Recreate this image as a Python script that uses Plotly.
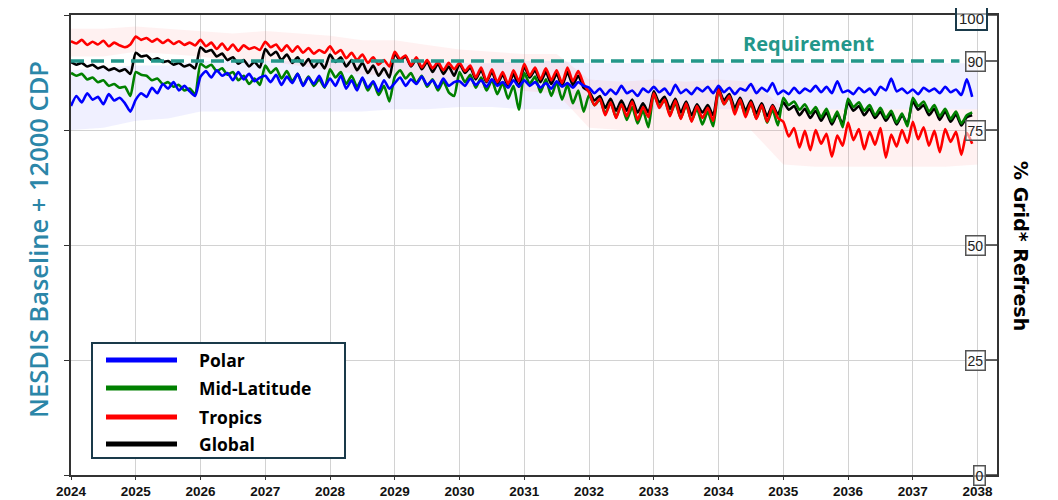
import plotly.graph_objects as go

# ---------------- data ----------------
years = list(range(2024, 2038))
tick_years = list(range(2024, 2039))
right_ticks = [0, 25, 50, 75, 90, 100]
requirement = 90

polar = [
    80.2, 82.4, 81.0, 83.0, 81.6, 82.2, 80.6, 82.8, 81.4, 82.0, 80.8, 79.0,
    81.6, 83.0, 82.2, 84.2, 83.0, 85.0, 84.0, 85.4, 83.6, 84.6, 83.4, 82.4,
    86.6, 87.8, 86.4, 88.0, 86.8, 87.4, 85.8, 87.6, 86.0, 87.2, 85.6, 86.4,
    86.8, 85.4, 87.0, 84.8, 86.6, 85.2, 87.2, 84.6, 86.4, 85.0, 86.8, 84.4,
    86.2, 84.6, 86.8, 84.0, 85.8, 83.6, 86.4, 84.2, 85.6, 83.4, 85.8, 84.0,
    85.2, 86.4, 84.6, 86.0, 85.0, 86.6, 84.8, 85.8, 84.2, 86.2, 84.6, 85.4,
    85.6, 84.6, 86.2, 84.8, 85.8, 84.4, 86.0, 84.6, 85.4, 84.2, 85.8, 84.4,
    85.8, 84.6, 85.4, 84.2, 85.2, 84.0, 85.6, 84.4, 85.2, 84.2, 85.4, 84.6,
    84.2, 83.0, 84.0, 82.6, 83.8, 82.8, 84.6, 83.0, 83.6, 82.4, 84.0, 83.2,
    84.4, 83.2, 84.0, 82.6, 84.8, 83.0, 83.8, 82.8, 84.2, 83.4, 84.4, 83.0,
    84.6, 83.2, 84.2, 82.8, 84.0, 83.6, 85.0, 83.0, 84.2, 83.4, 85.2, 82.8,
    83.6, 82.8, 84.2, 83.0, 84.0, 83.4, 84.6, 83.2, 84.4, 83.0, 85.6, 83.2,
    83.6, 82.8, 84.2, 83.2, 84.0, 82.6, 84.4, 83.6, 86.2, 83.4, 84.0, 83.0,
    83.8, 82.8, 84.2, 83.4, 84.0, 83.0, 84.4, 83.2, 83.8, 82.6, 86.0, 82.2,
]

mid_latitude = [
    87.4, 86.8, 87.2, 86.0, 86.4, 85.4, 85.8, 84.6, 85.0, 84.2, 84.4, 82.4,
    87.6, 87.0, 86.8, 85.8, 86.2, 85.0, 85.4, 84.4, 84.8, 83.6, 84.0, 82.8,
    89.4, 88.6, 89.2, 87.8, 88.4, 87.0, 87.6, 85.8, 86.8, 85.0, 86.2, 84.8,
    89.0, 87.4, 88.4, 86.2, 87.8, 85.6, 87.2, 84.8, 86.6, 84.6, 86.0, 84.2,
    88.2, 86.4, 87.6, 85.0, 86.8, 84.4, 86.2, 83.6, 85.4, 82.6, 84.6, 81.2,
    86.6, 88.0, 86.2, 87.4, 85.2, 86.8, 84.4, 86.0, 83.6, 85.6, 83.2, 82.4,
    87.6, 85.4, 87.0, 84.2, 86.4, 83.6, 85.8, 82.8, 85.2, 81.8, 84.6, 79.4,
    87.4, 85.0, 86.6, 83.2, 86.0, 82.4, 85.4, 81.6, 84.8, 80.8, 83.6, 79.0,
    82.6, 80.4, 81.6, 78.6, 81.0, 77.8, 80.6, 77.2, 80.0, 76.4, 79.2, 75.6,
    82.8, 80.2, 81.4, 78.4, 80.8, 77.6, 80.4, 77.0, 79.6, 76.2, 79.0, 75.8,
    83.6, 80.6, 82.2, 79.0, 81.2, 78.4, 80.6, 77.6, 80.2, 76.6, 79.4, 76.0,
    82.0, 80.4, 81.2, 79.4, 80.6, 78.6, 80.0, 77.8, 79.6, 76.8, 79.0, 75.6,
    81.8, 80.0, 81.0, 79.2, 80.4, 78.2, 79.8, 77.6, 79.2, 76.6, 78.6, 75.8,
    82.0, 80.2, 81.2, 79.0, 80.4, 78.0, 79.6, 77.4, 79.0, 76.4, 78.2, 78.8,
]

tropics = [
    94.3, 93.8, 94.6, 93.5, 94.2, 93.6, 94.4, 93.2, 94.0, 93.4, 93.0, 93.6,
    95.3, 94.6, 95.0, 94.2, 94.8, 93.9, 94.6, 93.7, 94.3, 93.5, 94.0, 93.4,
    94.6, 93.2, 94.0, 92.6, 93.8, 92.4, 93.6, 92.2, 93.4, 92.6, 93.0, 92.4,
    94.2, 93.0, 93.6, 92.2, 93.4, 92.0, 93.2, 91.8, 92.8, 91.6, 92.4, 91.8,
    93.2, 91.6, 92.4, 90.6, 91.8, 90.2, 91.4, 89.6, 90.8, 89.2, 90.2, 88.8,
    92.0, 90.4, 91.2, 89.0, 90.8, 88.6, 90.2, 88.4, 89.8, 88.0, 89.6, 88.2,
    89.6, 87.8, 89.0, 86.4, 88.6, 85.6, 88.2, 85.4, 87.6, 85.0, 88.0, 85.6,
    89.4, 86.8, 88.6, 86.0, 88.4, 85.8, 88.0, 85.2, 88.6, 85.6, 87.8, 85.0,
    83.2, 80.4, 81.8, 78.2, 81.0, 77.6, 80.6, 78.0, 81.2, 77.2, 80.0, 77.8,
    83.0, 79.8, 81.6, 78.0, 81.4, 77.4, 80.8, 76.8, 80.2, 77.6, 79.8, 77.0,
    83.8, 80.6, 82.4, 78.4, 81.6, 77.8, 81.0, 77.4, 80.4, 76.8, 80.2, 77.6,
    76.8, 73.6, 75.4, 71.2, 74.8, 70.6, 75.0, 72.0, 74.2, 69.2, 73.8, 71.6,
    76.6, 72.8, 75.2, 70.8, 74.6, 71.8, 75.4, 69.0, 74.0, 71.4, 75.0, 72.2,
    76.8, 73.0, 75.6, 71.6, 74.8, 70.2, 75.2, 72.4, 74.6, 69.6, 74.4, 72.0,
]

global_ = [
    89.8, 89.2, 89.6, 88.8, 89.2, 88.4, 88.8, 88.0, 88.4, 87.8, 88.2, 87.2,
    91.8, 91.0, 91.2, 90.2, 90.6, 89.8, 90.0, 89.2, 89.6, 88.8, 89.2, 88.4,
    93.0, 92.0, 92.4, 91.0, 91.6, 90.2, 90.8, 89.4, 90.2, 88.8, 89.8, 88.6,
    92.6, 91.2, 92.0, 90.2, 91.4, 89.6, 90.8, 89.0, 90.4, 88.6, 90.0, 88.4,
    91.4, 89.8, 90.8, 88.8, 90.2, 88.0, 89.6, 87.4, 89.0, 86.8, 88.4, 86.4,
    91.6, 90.0, 91.0, 88.8, 90.4, 88.2, 89.8, 87.6, 89.4, 87.2, 88.8, 86.8,
    89.4, 87.4, 88.6, 86.0, 88.0, 85.4, 87.6, 85.0, 87.0, 84.6, 87.2, 84.4,
    88.8, 86.4, 88.0, 85.4, 87.6, 85.0, 87.2, 84.6, 87.6, 84.8, 86.8, 84.2,
    83.4, 81.4, 82.4, 79.8, 81.8, 79.2, 81.4, 79.2, 81.6, 78.8, 80.8, 78.8,
    83.4, 81.0, 82.2, 79.6, 81.8, 78.8, 81.2, 78.2, 80.6, 78.8, 80.4, 78.2,
    84.0, 81.4, 82.8, 79.8, 82.0, 79.2, 81.4, 78.6, 80.8, 78.0, 80.4, 78.4,
    81.0, 79.4, 80.2, 78.2, 79.6, 77.6, 79.2, 77.0, 78.8, 76.2, 78.4, 76.4,
    81.0, 79.2, 80.2, 78.2, 79.6, 77.6, 79.0, 77.0, 78.6, 76.2, 78.2, 76.4,
    81.2, 79.4, 80.4, 78.2, 79.6, 77.2, 79.0, 76.8, 78.4, 76.0, 77.8, 78.2,
]

# faint spread bands, sampled every half year
polar_hi = [88, 88.5, 89, 89, 90, 90, 90, 90, 90, 90, 90, 90, 89.5, 89.5, 90,
            90, 89.5, 89.5, 89.5, 89.5, 89.5, 89.5, 89.5, 89.5, 89.5, 89.5,
            89.5, 89.5, 89.5]
polar_lo = [75, 75.5, 77, 77.5, 79, 79, 79, 79, 79, 79, 79.5, 79.5, 80, 80,
            79.5, 79.5, 79.5, 79.5, 79.5, 79.5, 79.5, 79.5, 79.5, 79.5, 79.5,
            79.5, 79.5, 79.5, 79.5]
tropics_hi = [97, 97, 97.5, 97, 96.5, 96, 96.5, 96, 95.5, 94.5, 94.5, 93.5,
              92.5, 92, 91.5, 91.5, 86, 85.5, 86, 85.5, 86, 85.5, 80, 79.5,
              79.5, 79.5, 79.5, 79.5, 79.5]
tropics_lo = [91, 91, 92, 91.5, 91, 90, 90, 89, 88, 87, 87, 85.5, 84.5, 84,
              83.5, 83, 75.5, 75, 75, 75, 75, 75, 67.5, 67, 67, 67, 67, 67,
              67.5]

series_names = ["Polar", "Mid-Latitude", "Tropics", "Global"]
series_colors = ["#0000ff", "#008000", "#ff0000", "#000000"]

# ---------------- positions ----------------
x_month = [y + m / 12 for y in years for m in range(12)]
x_band = [2024 + i * 0.5 for i in range(len(polar_hi))]

# page has an 8px body margin; target pixel coords are in window space
OFF = 8
W, H = 1050, 492
L, T = 71 - OFF, 15 - OFF
PW, PH = 926, 460
R = W - L - PW
B = H - T - PH


def px(X):
    return (X - OFF - L) / PW


def py(Y):
    return (T + PH - (Y - OFF)) / PH


fig = go.Figure()

# bands
for hi, lo, col in [(polar_hi, polar_lo, "rgba(170,170,255,0.18)"),
                    (tropics_hi, tropics_lo, "rgba(255,150,150,0.13)")]:
    fig.add_trace(go.Scatter(x=x_band + x_band[::-1], y=hi + lo[::-1],
                             fill="toself", fillcolor=col, mode="lines",
                             line=dict(width=0), hoverinfo="skip",
                             showlegend=False))

data = {"Polar": polar, "Mid-Latitude": mid_latitude,
        "Tropics": tropics, "Global": global_}
colors = dict(zip(series_names, series_colors))
for name in ["Global", "Mid-Latitude", "Tropics", "Polar"]:
    fig.add_trace(go.Scatter(x=x_month, y=data[name], mode="lines", name=name,
                             line=dict(color=colors[name], width=2.6,
                                       shape="spline", smoothing=0.6),
                             showlegend=False))

shapes = []
annotations = []

# requirement line
shapes.append(dict(type="line", xref="x", yref="y", x0=2024, x1=2037.72,
                   y0=requirement, y1=requirement,
                   line=dict(color="#23978a", width=3.5, dash="13px,7px")))
annotations.append(dict(text="<b>Requirement</b>", xref="paper", yref="paper",
                        x=px(808), y=py(44), xanchor="center",
                        yanchor="middle", showarrow=False,
                        font=dict(family="Open Sans", size=20,
                                  color="#23978a")))

# right-side boxed tick labels
for v in right_ticks:
    shapes.append(dict(type="line", xref="paper", yref="y", x0=px(986), x1=1.0,
                       y0=v, y1=v, line=dict(color="#333333", width=1.5)))
    is_top = v == 100
    annotations.append(dict(
        text=str(v), xref="paper", yref="y", x=px(986 if not is_top else 988),
        y=v, xanchor="right", yanchor="middle", showarrow=False,
        yshift=-3 if is_top else 0,
        font=dict(family="Liberation Sans", size=15 if is_top else 14,
                  color="#222222"),
        bordercolor="#1a3a4a" if is_top else "#555555",
        borderwidth=2 if is_top else 1.5, borderpad=2 if is_top else 1,
        bgcolor="rgba(255,255,255,0.55)"))

# axis titles
annotations.append(dict(text="NESDIS Baseline + 12000 CDP", xref="paper",
                        yref="paper", x=px(38), y=py(240), textangle=-90,
                        xanchor="center", yanchor="middle", showarrow=False,
                        font=dict(family="Open Sans", size=25.5, weight=600,
                                  color="#2b86a8")))
annotations.append(dict(text="<b>% Grid* Refresh</b>", xref="paper",
                        yref="paper", x=px(1021), y=py(246), textangle=90,
                        xanchor="center", yanchor="middle", showarrow=False,
                        font=dict(family="DejaVu Sans", size=19,
                                  color="#000000")))

# custom legend
shapes.append(dict(type="rect", xref="paper", yref="paper", x0=px(92),
                   x1=px(345), y0=py(458), y1=py(343),
                   line=dict(color="#1a3a4a", width=2),
                   fillcolor="rgba(255,255,255,1)", layer="above"))
legend_rows = [360, 388, 417, 444]
for name, yy in zip(series_names, legend_rows):
    shapes.append(dict(type="line", xref="paper", yref="paper", x0=px(106),
                       x1=px(177), y0=py(yy), y1=py(yy), layer="above",
                       line=dict(color=colors[name], width=5)))
    annotations.append(dict(text="<b>" + name + "</b>", xref="paper",
                            yref="paper", x=px(197), y=py(yy),
                            xanchor="left", yanchor="middle", showarrow=False,
                            font=dict(family="Open Sans", size=17.5,
                                      color="#000000")))

fig.update_layout(
    width=W, height=H,
    margin=dict(l=L, r=R, t=T, b=B, autoexpand=False),
    plot_bgcolor="white", paper_bgcolor="white",
    showlegend=False,
    shapes=shapes, annotations=annotations,
    xaxis=dict(range=[2024, 2038.3], tickvals=tick_years,
               ticktext=[str(t) for t in tick_years],
               showgrid=True, gridcolor="#d2d2d2", gridwidth=1,
               ticks="outside", ticklen=3, tickcolor="#333333",
               showline=True, linecolor="#333333", linewidth=2, mirror=True,
               zeroline=False, automargin=False,
               tickfont=dict(family="Liberation Sans", size=13.5,
                             color="#111111", weight="bold")),
    yaxis=dict(range=[0, 100], tickvals=[0, 25, 50, 75, 100],
               showgrid=True, gridcolor="#d2d2d2", gridwidth=1,
               showticklabels=False, ticks="outside", ticklen=5,
               tickcolor="#333333", showline=True, linecolor="#333333",
               linewidth=2, mirror=True, zeroline=False, automargin=False),
)

fig.write_html("out.html")
